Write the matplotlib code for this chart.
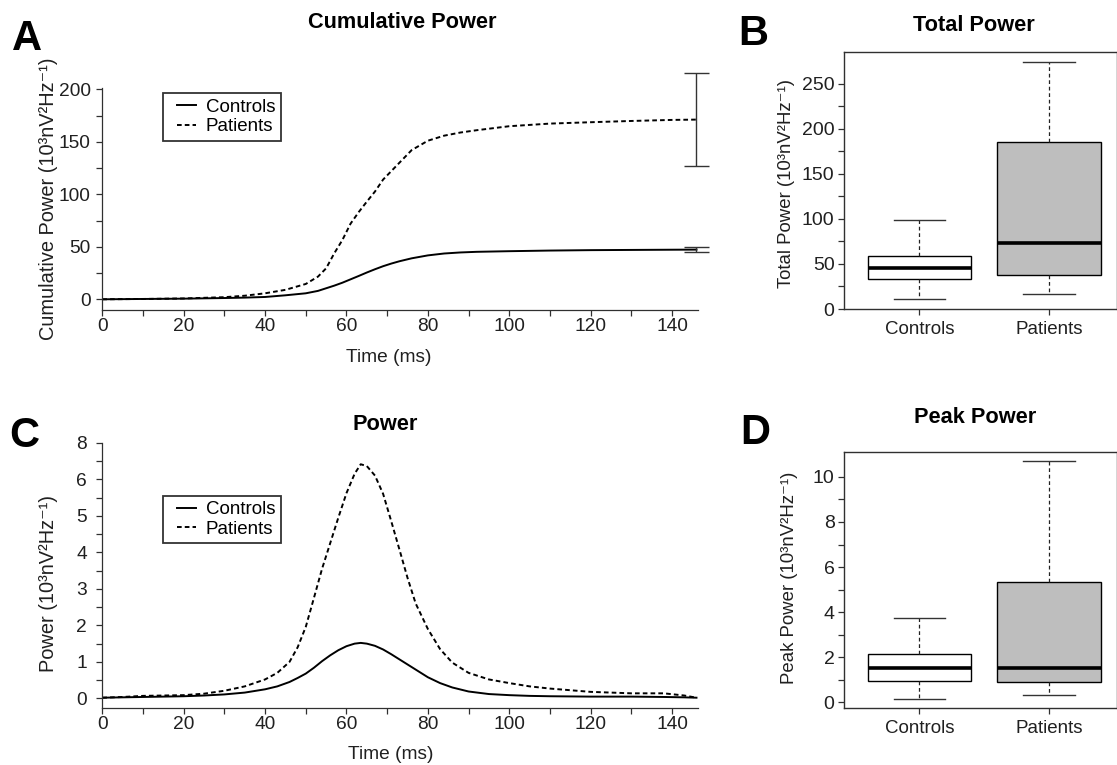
import matplotlib
matplotlib.use("Agg")
import matplotlib.pyplot as plt
from matplotlib import font_manager as fm
from matplotlib.legend_handler import HandlerLine2D
from matplotlib.ticker import FixedLocator

# ---------------- data ----------------
time_ms = [0, 5, 10, 15, 20, 25, 30, 35, 40, 43, 46, 48, 50, 52, 54, 56, 58, 60,
           62, 63.5, 65, 67, 69, 71, 73, 75, 77, 80, 83, 86, 90, 95, 100, 105,
           110, 120, 130, 138, 143, 146]
power_controls = [0.02, 0.03, 0.04, 0.05, 0.06, 0.08, 0.11, 0.16, 0.25, 0.33,
                  0.45, 0.56, 0.68, 0.84, 1.02, 1.18, 1.32, 1.43, 1.50, 1.52,
                  1.50, 1.44, 1.34, 1.21, 1.07, 0.93, 0.79, 0.58, 0.42, 0.30,
                  0.19, 0.12, 0.09, 0.07, 0.06, 0.05, 0.05, 0.04, 0.03, 0.02]
power_patients = [0.02, 0.04, 0.07, 0.08, 0.09, 0.13, 0.21, 0.33, 0.52, 0.70,
                  1.00, 1.40, 1.96, 2.75, 3.55, 4.25, 4.95, 5.62, 6.15, 6.41,
                  6.36, 6.10, 5.60, 4.85, 4.08, 3.30, 2.60, 1.90, 1.35, 0.98,
                  0.70, 0.52, 0.42, 0.33, 0.27, 0.18, 0.14, 0.14, 0.08, 0.02]

cum_time_ms = [0, 10, 20, 30, 35, 40, 45, 50, 53, 55, 57, 59, 61, 63, 65, 67,
               69, 71, 73, 76, 80, 84, 88, 92, 100, 110, 120, 130, 140, 146]
cum_controls = [0, 0.3, 0.6, 1.2, 1.6, 2.2, 3.8, 5.7, 8.0, 10.5, 13.0, 15.8,
                19.0, 22.2, 25.5, 28.6, 31.5, 34.0, 36.2, 39.0, 41.8, 43.6,
                44.6, 45.2, 45.8, 46.4, 46.8, 47.0, 47.2, 47.3]
cum_patients = [0, 0.3, 0.8, 2.0, 3.4, 5.7, 9.0, 14.6, 21.6, 29.5, 43.8, 56.5,
                72.0, 83.0, 93.0, 102.6, 114.0, 122.0, 130.0, 142.0, 151.0,
                155.8, 158.8, 161.0, 164.8, 167.3, 168.6, 169.8, 170.8, 171.1]
err_time_ms = 146
err_controls_low, err_controls_high = 45.0, 49.8
err_patients_low, err_patients_high = 127.0, 215.0

groups = ["Controls", "Patients"]
total_whislo = [10.7, 17.0]
total_q1 = [33.0, 37.4]
total_med = [45.2, 73.7]
total_q3 = [59.2, 185.9]
total_whishi = [98.5, 274.4]

peak_whislo = [0.15, 0.33]
peak_q1 = [0.95, 0.90]
peak_med = [1.53, 1.53]
peak_q3 = [2.13, 5.35]
peak_whishi = [3.73, 10.7]

c_ytick_labels = ["0", "1", "2", "3", "4", "5", "6", "8"]
ylabel_unit = "(10³nV²Hz⁻¹)"

# ---------------- fonts ----------------
names = {f.name for f in fm.fontManager.ttflist}
if "Liberation Sans Narrow" in names:
    NARROW = ["Liberation Sans Narrow", "DejaVu Sans"]
    nsize = 15
else:
    NARROW = ["Liberation Sans", "DejaVu Sans"]
    nsize = 13.8
REG = ["Liberation Sans", "DejaVu Sans"]

W, H, DPI = 1117, 765, 100
fig = plt.figure(figsize=(W / DPI, H / DPI), dpi=DPI)
fig.patch.set_facecolor("white")


def add_ax(l, t, r, b):
    return fig.add_axes([l / W, 1 - b / H, (r - l) / W, (b - t) / H])


def ftext(x, y, s, **kw):
    return fig.text(x / W, 1 - y / H, s, **kw)


SPC = "#303030"
DASH = (0, (2.4, 1.6))


def style_line_axes(ax, ypad):
    for s in ("top", "right"):
        ax.spines[s].set_visible(False)
    for s in ("left", "bottom"):
        ax.spines[s].set_color(SPC)
        ax.spines[s].set_linewidth(0.9)
    ax.tick_params(which="both", direction="out", length=4, width=0.9,
                   color=SPC)
    ax.tick_params(axis="x", which="major", pad=1.5)
    ax.tick_params(axis="y", which="major", pad=ypad)
    for lab in ax.get_xticklabels() + ax.get_yticklabels():
        lab.set_fontfamily(NARROW)
        lab.set_fontsize(nsize)
        lab.set_color("#202020")


def add_legend(ax, top_px):
    leg = ax.legend(loc="upper left",
                    bbox_to_anchor=(162.7 / W, 1 - top_px / H),
                    bbox_transform=fig.transFigure, borderaxespad=0,
                    prop={"family": REG, "size": 13.5},
                    frameon=True, fancybox=False, borderpad=0.3,
                    labelspacing=0.12, handlelength=1.5,
                    handletextpad=0.5,
                    handler_map={plt.Line2D: HandlerLine2D(xpad=0.45)})
    fr = leg.get_frame()
    fr.set_edgecolor("black")
    fr.set_linewidth(1.3)
    return leg


# ---------------- Panel A ----------------
axA = add_ax(102.3, 88.2, 697.7, 310)
axA.plot(cum_time_ms, cum_controls, color="black", lw=1.4, label="Controls")
axA.plot(cum_time_ms, cum_patients, color="black", lw=1.4, ls=DASH,
         label="Patients")
for lo, hi, mid in ((err_patients_low, err_patients_high, cum_patients[-1]),
                    (err_controls_low, err_controls_high, cum_controls[-1])):
    eb = axA.errorbar([err_time_ms], [mid], yerr=[[mid - lo], [hi - mid]],
                      fmt="none", ecolor="#333333", elinewidth=1.0,
                      capsize=9, capthick=1.0)
    for art in eb.lines[1] + eb.lines[2]:
        art.set_clip_on(False)
axA.set_xlim(0, 146.3)
axA.set_ylim(-10.2, 201)
axA.set_xticks(range(0, 141, 20))
axA.xaxis.set_minor_locator(FixedLocator(list(range(10, 141, 20))))
axA.set_yticks(range(0, 201, 50))
axA.yaxis.set_minor_locator(FixedLocator(list(range(25, 200, 50))))
style_line_axes(axA, 4.3)
add_legend(axA, 93.3)

# ---------------- Panel C ----------------
axC = add_ax(102.3, 442.7, 697.7, 708.3)
axC.plot(time_ms, power_controls, color="black", lw=1.4, label="Controls")
axC.plot(time_ms, power_patients, color="black", lw=1.4, ls=DASH,
         label="Patients")
axC.set_xlim(0, 146.3)
axC.set_ylim(-0.27, 7.0)
axC.set_xticks(range(0, 141, 20))
axC.xaxis.set_minor_locator(FixedLocator(list(range(10, 141, 20))))
axC.set_yticks(range(0, 8))
axC.set_yticklabels(c_ytick_labels)
axC.yaxis.set_minor_locator(FixedLocator([i + 0.5 for i in range(7)]))
style_line_axes(axC, 7)
add_legend(axC, 495.7)


# ---------------- Box panels ----------------
def box_panel(ax, wlo, q1, med, q3, whi, ylim, major, minor, lab_pad):
    stats = [dict(med=med[i], q1=q1[i], q3=q3[i], whislo=wlo[i],
                  whishi=whi[i], fliers=[], label=groups[i])
             for i in range(len(groups))]
    bp = ax.bxp(stats, positions=[1, 2], widths=0.8, patch_artist=True,
                showfliers=False, capwidths=0.4,
                boxprops=dict(edgecolor="black", linewidth=1.0),
                medianprops=dict(color="black", linewidth=2.6,
                                 solid_capstyle="butt"),
                whiskerprops=dict(color="#222222", linewidth=0.9,
                                  linestyle=(0, (3, 2.2))),
                capprops=dict(color="#333333", linewidth=1.0))
    for patch, fc in zip(bp["boxes"], ["white", "#bebebe"]):
        patch.set_facecolor(fc)
    ax.set_xlim(0.4207, 2.518)
    ax.set_ylim(*ylim)
    ax.set_yticks(major)
    ax.yaxis.set_minor_locator(FixedLocator(minor))
    ax.set_xticks([1, 2])
    ax.set_xticklabels(groups)
    for s in ax.spines.values():
        s.set_color(SPC)
        s.set_linewidth(1.0)
    ax.tick_params(which="both", direction="out", length=4, width=0.9,
                   color=SPC)
    ax.tick_params(axis="y", which="major", pad=3, labelsize=14)
    ax.tick_params(axis="x", pad=lab_pad, labelsize=13.5)
    for lab in ax.get_xticklabels() + ax.get_yticklabels():
        lab.set_fontfamily(REG)
        lab.set_color("#202020")


axB = add_ax(844.3, 52.3, 1116.5, 309)
box_panel(axB, total_whislo, total_q1, total_med, total_q3, total_whishi,
          (0.2, 285), list(range(0, 251, 50)), list(range(25, 250, 50)), 4.3)

axD = add_ax(844.3, 451.7, 1116.5, 708.3)
box_panel(axD, peak_whislo, peak_q1, peak_med, peak_q3, peak_whishi,
          (-0.27, 11.12), list(range(0, 11, 2)), list(range(1, 10, 2)), 4.5)

# ---------------- titles, labels, panel letters ----------------
tkw = dict(ha="center", va="baseline", fontweight="bold", family=REG,
           fontsize=15.7)
ftext(402, 28.3, "Cumulative Power", **tkw)
ftext(384.7, 430, "Power", **tkw)
ftext(974, 30.7, "Total Power", **tkw)
ftext(975, 423.3, "Peak Power", **tkw)

lkw = dict(ha="center", va="baseline", fontweight="bold", family=REG,
           fontsize=30)
ftext(27, 50, "A", **lkw)
ftext(753.7, 45, "B", **lkw)
ftext(24.5, 446.7, "C", **lkw)
ftext(755.7, 444, "D", **lkw)

xkw = dict(ha="center", va="baseline", family=NARROW, fontsize=nsize,
           color="#202020")
ftext(389, 362, "Time (ms)", **xkw)
ftext(391, 759, "Time (ms)", **xkw)

ykw = dict(ha="center", va="center", rotation=90, family=NARROW,
           fontsize=nsize + 0.6, color="#202020")
ftext(48, 198.5, "Cumulative Power " + ylabel_unit, **ykw)
ftext(48, 584, "Power " + ylabel_unit, **ykw)

ykw2 = dict(ha="center", va="center", rotation=90, family=REG,
            fontsize=13.4, color="#202020")
ftext(786.7, 183.5, "Total Power " + ylabel_unit, **ykw2)
ftext(790, 578.3, "Peak Power " + ylabel_unit, **ykw2)

fig.savefig("out.png", dpi=DPI)
